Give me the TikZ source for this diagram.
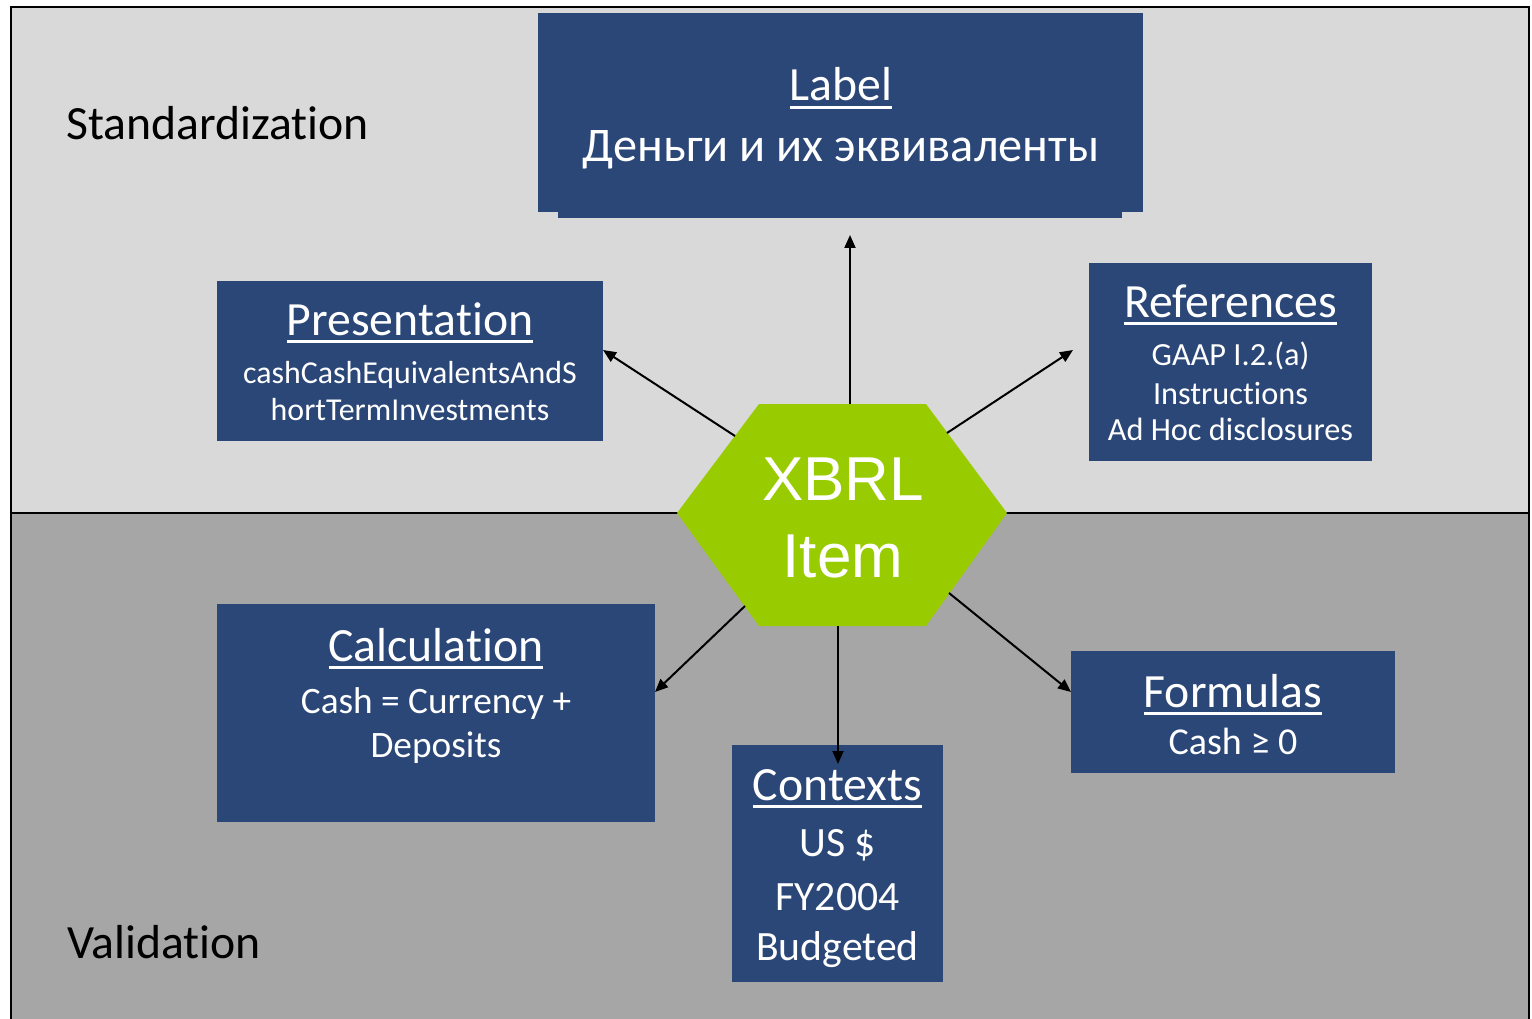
\documentclass[tikz,border=0pt]{standalone}
\usepackage{fontspec}
\setmainfont{Carlito}[Ligatures=NoCommon]
\newfontfamily\arialf{Liberation Sans}
\usetikzlibrary{arrows.meta}
\definecolor{topbg}{HTML}{D9D9D9}
\definecolor{botbg}{HTML}{A6A6A6}
\definecolor{boxblue}{HTML}{2B4777}
\definecolor{hexgreen}{HTML}{99CC00}
\newlength\ulwidth
\newcommand\ultxt[1]{\settowidth\ulwidth{#1}\makebox[0pt][l]{\rule[-0.17em]{\ulwidth}{0.055em}}#1}
\tikzset{
  bluebox/.style={fill=boxblue, draw=none, rectangle, inner sep=0pt},
  ttl/.style={anchor=base, inner sep=0pt, text=white, font=\fontsize{47.7}{57}\selectfont},
  bodytxt/.style={anchor=base, inner sep=0pt, text=white},
  section/.style={anchor=base west, inner sep=0pt, text=black, font=\fontsize{47.7}{57}\selectfont},
  conn/.style={line width=2pt, -{Triangle[length=13pt,width=11pt]}},
  frame/.style={line width=2.6pt}
}
\begin{document}
\begin{tikzpicture}[x=1pt,y=-1pt]
\useasboundingbox (0,0) rectangle (1532,1019);
% backgrounds
\fill[topbg] (11,7) rectangle (1529,513);
\fill[botbg] (11,513) rectangle (1529,1019);
\draw[frame] (11,1019) -- (11,7) -- (1529,7) -- (1529,1019);
\draw[frame] (11,513) -- (1529,513);
% section labels
\node[section] (std) at (66,140) {Standardization};
\node[section] (val) at (67,958) {Validation};
% boxes
\fill[boxblue] (558,200) rectangle (1122,218);
\node[bluebox, minimum width=605pt, minimum height=199pt] (label) at (840.5,112.5) {};
\node[bluebox, minimum width=386pt, minimum height=160pt] (pres) at (410,361) {};
\node[bluebox, minimum width=283pt, minimum height=198pt] (refs) at (1230.5,362) {};
\node[bluebox, minimum width=438pt, minimum height=218pt] (calc) at (436,713) {};
\node[bluebox, minimum width=211pt, minimum height=237pt] (ctx) at (837.5,863.5) {};
\node[bluebox, minimum width=324pt, minimum height=122pt] (form) at (1233,712) {};
% texts
\node[ttl] (labelT) at (841,101) {\ultxt{Label}};
\node[bodytxt, font=\fontsize{48.3}{58}\selectfont] (labelB) at (841,162) {Деньги и их эквиваленты};
\node[ttl] (presT) at (410,335) {\ultxt{Presentation}};
\node[bodytxt, font=\fontsize{31.9}{38}\selectfont] (presB1) at (410,383) {cashCashEquivalentsAndS};
\node[bodytxt, font=\fontsize{31.9}{38}\selectfont] (presB2) at (410,420) {hortTermInvestments};
\node[ttl] (refsT) at (1230.5,317) {\ultxt{References}};
\node[bodytxt, font=\fontsize{32.3}{39}\selectfont] (refsB1) at (1230.5,365) {GAAP I.2.(a)};
\node[bodytxt, font=\fontsize{32.3}{39}\selectfont] (refsB2) at (1230.5,404) {Instructions};
\node[bodytxt, font=\fontsize{32.3}{39}\selectfont] (refsB3) at (1230.5,440) {Ad Hoc disclosures};
\node[ttl] (calcT) at (436,661) {\ultxt{Calculation}};
\node[bodytxt, font=\fontsize{37.3}{45}\selectfont] (calcB1) at (436,713) {Cash = Currency +};
\node[bodytxt, font=\fontsize{37.3}{45}\selectfont] (calcB2) at (436,757) {Deposits};
\node[ttl] (ctxT) at (837.5,800) {\ultxt{Contexts}};
\node[bodytxt, font=\fontsize{41.7}{50}\selectfont] (ctxB1) at (837.5,856) {US \$};
\node[bodytxt, font=\fontsize{41.7}{50}\selectfont] (ctxB2) at (837.5,910) {FY2004};
\node[bodytxt, font=\fontsize{41.7}{50}\selectfont] (ctxB3) at (837.5,960) {Budgeted};
\node[ttl] (formT) at (1233,707) {\ultxt{Formulas}};
\node[bodytxt, font=\fontsize{38}{46}\selectfont] (formB) at (1233,754) {Cash ≥ 0};
% hexagon
\fill[hexgreen] (677,513) -- (759,404) -- (926,404) -- (1007,513) -- (926,626) -- (759,626) -- cycle;
\node[bodytxt, font=\arialf\fontsize{62}{74}\selectfont] (xbrl) at (843,500) {XBRL};
\node[bodytxt, font=\arialf\fontsize{62}{74}\selectfont] (item) at (843,577) {Item};
% connector endpoints
\coordinate (hUp) at (850,404);
\coordinate (hUL) at (735,436);
\coordinate (hUR) at (947,433);
\coordinate (hLL) at (745,606);
\coordinate (hDn) at (838,626);
\coordinate (hLR) at (949,593);
\coordinate (labelEnd) at (850,235);
\coordinate (presEnd) at (603,350);
\coordinate (refsEnd) at (1073,350);
\coordinate (calcEnd) at (655,692);
\coordinate (ctxEnd) at (838,764);
\coordinate (formEnd) at (1071,692);
\draw[conn] (hUp) -- (labelEnd);
\draw[conn] (hUL) -- (presEnd);
\draw[conn] (hUR) -- (refsEnd);
\draw[conn] (hLL) -- (calcEnd);
\draw[conn] (hDn) -- (ctxEnd);
\draw[conn] (hLR) -- (formEnd);
\end{tikzpicture}
\end{document}
